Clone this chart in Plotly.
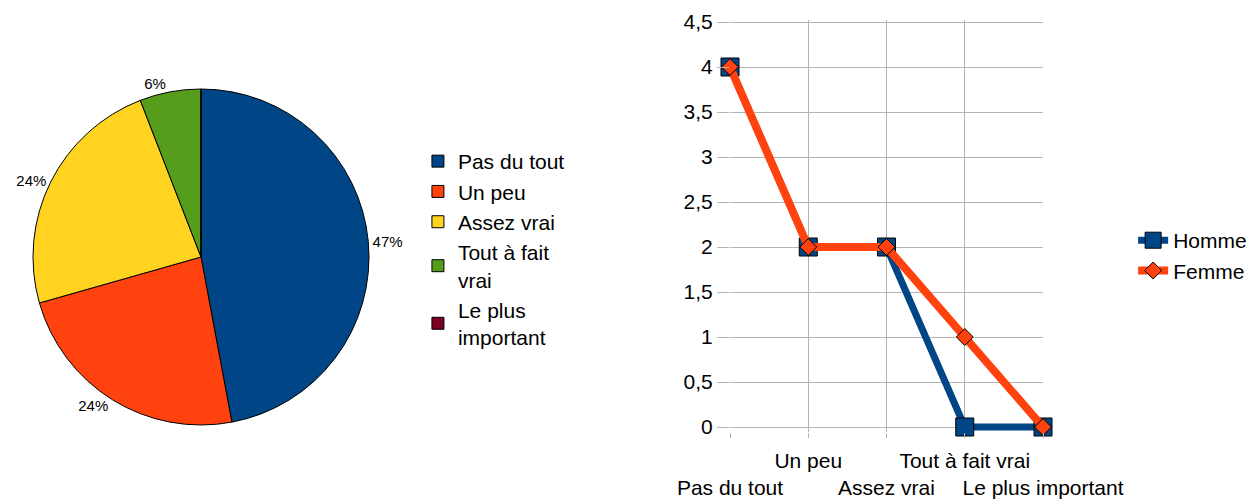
import plotly.graph_objects as go

categories = ["Pas du tout", "Un peu", "Assez vrai", "Tout à fait vrai", "Le plus important"]
pie_labels = ["Pas du tout", "Un peu", "Assez vrai", "Tout à fait<br>vrai", "Le plus<br>important"]
pie_values = [8, 4, 4, 1, 0]
homme = [4, 2, 2, 0, 0]
femme = [4, 2, 2, 1, 0]
y_ticks = [0, 0.5, 1, 1.5, 2, 2.5, 3, 3.5, 4, 4.5]
y_ticktext = ["0", "0,5", "1", "1,5", "2", "2,5", "3", "3,5", "4", "4,5"]

colors = ["#004586", "#ff420e", "#ffd320", "#579d1c", "#7e0021"]
font = "Liberation Sans, Arial, sans-serif"

W, H = 1246, 492  # page body has an 8px margin

# no label for empty slices
pie_text = ["%{percent:.0%}" if v > 0 else "" for v in pie_values]

fig = go.Figure()

fig.add_trace(go.Pie(
    labels=pie_labels,
    values=pie_values,
    sort=False,
    direction="clockwise",
    rotation=0,
    marker=dict(colors=colors, line=dict(color="black", width=1)),
    textposition="outside",
    texttemplate=pie_text,
    textfont=dict(size=15, color="black"),
    domain=dict(x=[25 / W, 361 / W], y=[75 / H, 411 / H]),
    legend="legend",
    hoverinfo="label+value+percent",
))

fig.add_trace(go.Scatter(
    x=categories, y=homme, name="Homme", mode="lines+markers",
    line=dict(color="#004586", width=7),
    marker=dict(symbol="square", size=18, color="#004586", line=dict(color="black", width=1)),
    cliponaxis=False, legend="legend2",
))
fig.add_trace(go.Scatter(
    x=categories, y=femme, name="Femme", mode="lines+markers",
    line=dict(color="#ff420e", width=8),
    marker=dict(symbol="diamond", size=13, color="#ff420e", line=dict(color="black", width=1)),
    cliponaxis=False, legend="legend2",
))

ticktext = [c if i % 2 else "<br>" + c for i, c in enumerate(categories)]

# a little room below 0 so the line lying on the axis is not clipped
y_range = [-0.06, 4.52]
px_per_unit = 405 / 4.5
y_bottom = 73 - 0.06 * px_per_unit
y_top = 478 + 0.02 * px_per_unit

fig.update_layout(
    width=W, height=H,
    margin=dict(l=0, r=0, t=0, b=0),
    paper_bgcolor="white", plot_bgcolor="white",
    font=dict(family=font, size=21, color="black"),
    separators=", ",
    xaxis=dict(
        domain=[722 / W, 1035 / W],
        type="category", categoryorder="array", categoryarray=categories,
        range=[0, 4], automargin=False,
        tickmode="array", tickvals=categories, ticktext=ticktext, tickangle=0,
        showgrid=True, gridcolor="#b3b3b3", gridwidth=1,
        ticks="outside", ticklen=5, tickcolor="#b3b3b3",
        ticklabelstandoff=4,
        showline=False, zeroline=False,
        tickfont=dict(size=21),
    ),
    yaxis=dict(
        domain=[y_bottom / H, y_top / H],
        range=y_range, automargin=False,
        tickmode="array", tickvals=y_ticks, ticktext=y_ticktext,
        ticklabeloverflow="allow",
        showgrid=True, gridcolor="#b3b3b3", gridwidth=1,
        ticks="outside", ticklen=12, tickcolor="#b3b3b3",
        showline=False, zeroline=False,
        tickfont=dict(size=21),
    ),
    legend=dict(
        x=0.329, y=0.7297, xanchor="left", yanchor="top",
        font=dict(size=21), traceorder="normal", itemclick=False,
        tracegroupgap=0,
    ),
    legend2=dict(
        x=0.903, y=0.569, xanchor="left", yanchor="top",
        font=dict(size=21),
    ),
)

fig.write_html("out.html")
